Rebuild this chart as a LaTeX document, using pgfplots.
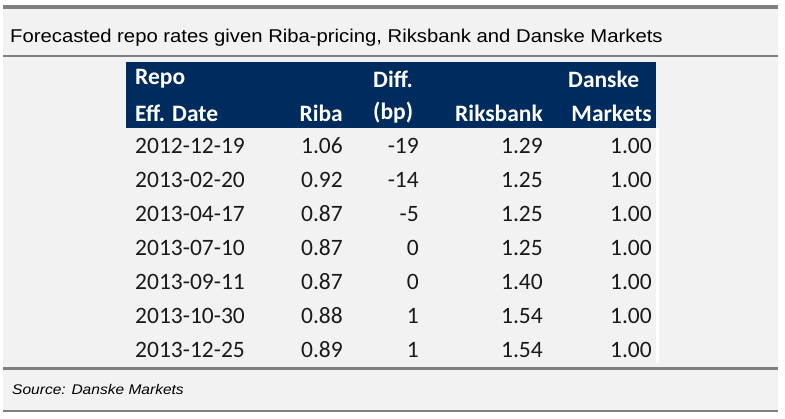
\documentclass[border=0pt]{standalone}
\usepackage{pgfplots}
\pgfplotsset{compat=1.18}
\usepackage{pgfplotstable}
\usepackage{fontspec}
\setmainfont{Carlito}
\newfontfamily\titlefont{Liberation Sans}
\definecolor{bg}{HTML}{F2F2F2}
\definecolor{navy}{HTML}{002B5E}
\definecolor{rulegray}{HTML}{808080}
\definecolor{txt}{HTML}{1A1A1A}
\pgfplotstableread{
date riba diff riks danske
2012-12-19 1.06 -19 1.29 1.00
2013-02-20 0.92 -14 1.25 1.00
2013-04-17 0.87 -5 1.25 1.00
2013-07-10 0.87 0 1.25 1.00
2013-09-11 0.87 0 1.40 1.00
2013-10-30 0.88 1 1.54 1.00
2013-12-25 0.89 1 1.54 1.00
}\repotable
\begin{document}
\begin{tikzpicture}
\begin{axis}[scale only axis, width=785pt, height=418pt,
  xmin=0, xmax=785, ymin=0, ymax=418, y dir=reverse,
  hide axis, clip=false,
  every axis plot/.append style={draw=none, mark=none, nodes near coords,
    point meta=explicit symbolic},
  nodes near coords style={inner sep=0pt, text=txt, font=\fontsize{23.5}{26}\selectfont},
]
\fill[white] (0,0) rectangle (785,418);
\fill[bg] (3,9) rectangle (777.5,410);
\fill[rulegray] (3,5) rectangle (777.5,9.3);
\fill[rulegray] (3,55.3) rectangle (777.5,56.8);
\fill[rulegray] (3,367) rectangle (777.5,369.5);
\fill[rulegray] (3,409.5) rectangle (777.5,412);
\fill[navy] (126,62) rectangle (656,128);
\fill[white] (656,128) rectangle (658.5,363);
\node[anchor=base west, inner sep=0pt, font=\titlefont\fontsize{18.5}{22}\selectfont] at (10,42.3)
  {\scalebox{1.096}[1]{Forecasted repo rates given Riba-pricing, Riksbank and Danske Markets}};
\node[anchor=base west, inner sep=0pt, font=\titlefont\fontsize{14}{16}\selectfont\itshape] at (12,394.7)
  {\scalebox{1.11}[1]{Source: Danske Markets}};
\begin{scope}[every node/.style={inner sep=0pt, text=white, font=\fontsize{23.5}{26}\selectfont\bfseries}]
\node[anchor=west] at (135,79) {Repo};
\node[anchor=west] at (135,113) {Eff. Date};
\node[anchor=east] at (343,113) {Riba};
\node[anchor=west] at (373,79) {Diff.};
\node[anchor=west] at (373,113) {(bp)};
\node[anchor=east] at (543,113) {Riksbank};
\node[anchor=west] at (568,79) {Danske};
\node[anchor=east] at (652,113) {Markets};
\end{scope}
\addplot[nodes near coords style={anchor=west}] table[x expr=135, y expr=146+34*\coordindex, meta=date] {\repotable};
\addplot[nodes near coords style={anchor=east}] table[x expr=343, y expr=146+34*\coordindex, meta=riba] {\repotable};
\addplot[nodes near coords style={anchor=east}] table[x expr=419, y expr=146+34*\coordindex, meta=diff] {\repotable};
\addplot[nodes near coords style={anchor=east}] table[x expr=543, y expr=146+34*\coordindex, meta=riks] {\repotable};
\addplot[nodes near coords style={anchor=east}] table[x expr=652, y expr=146+34*\coordindex, meta=danske] {\repotable};
\end{axis}
\end{tikzpicture}
\end{document}
